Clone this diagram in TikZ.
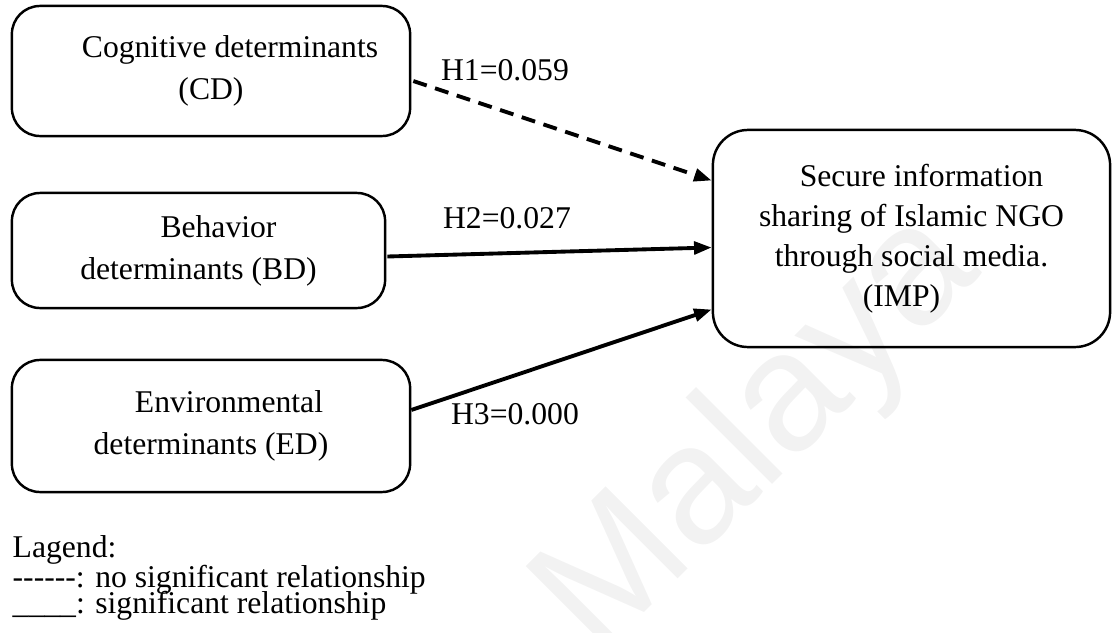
\documentclass[tikz,border=0pt]{standalone}
\usepackage{fontspec}
\setmainfont{Liberation Serif}
\newfontfamily\wmfont{Liberation Sans}
\usetikzlibrary{calc,arrows.meta}
\begin{document}
\begin{tikzpicture}[x=0.01cm,y=-0.01cm,
  box/.style={draw, line width=0.7pt, rounded corners=8pt, align=center, inner sep=0pt,
    font=\fontsize{9}{12}\selectfont},
  conn/.style={line width=1.1pt, -{Triangle[length=5pt,width=3.6pt]}},
  lbl/.style={font=\fontsize{9}{12}\selectfont, inner sep=0pt},
  legend/.style={font=\fontsize{9}{12}\selectfont, inner sep=0pt, anchor=west}]
\useasboundingbox (0,0) rectangle (1114,633);
% watermark
\node[text=black!5, rotate=45, font=\wmfont\fontsize{48}{48}\selectfont, inner sep=0pt] (wm) at (760,435) {Malaya};
% boxes
\node[box, minimum width=3.98cm, minimum height=1.30cm] (CD) at (211,71)
  {\hspace*{0.38cm}Cognitive determinants\\(CD)};
\node[box, minimum width=3.73cm, minimum height=1.15cm] (BD) at (198.5,250.5)
  {\hspace*{0.40cm}Behavior\\determinants (BD)};
\node[box, minimum width=3.98cm, minimum height=1.32cm] (ED) at (211,426)
  {\hspace*{0.36cm}Environmental\\determinants (ED)};
\node[box, rounded corners=10pt, minimum width=3.97cm, minimum height=2.17cm, font=\fontsize{9}{11.4}\selectfont] (IMP) at (911.5,238.5)
  {\hspace*{0.2cm}Secure information\\sharing of Islamic NGO\\through social media.\\\hspace*{-0.2cm}(IMP)};
% connectors
\draw[conn, dashed, dash pattern=on 4pt off 2.5pt] ($(CD.east)+(2,10)$) -- ($(IMP.west)+(0,-58)$);
\draw[conn] ($(BD.east)+(1,6)$) -- ($(IMP.west)+(0,9)$);
\draw[conn] ($(ED.east)+(0,-16)$) -- ($(IMP.west)+(0,71)$);
% labels
\node[lbl] (h1) at (505,70) {H1=0.059};
\node[lbl] (h2) at (507,218) {H2=0.027};
\node[lbl] (h3) at (515,414) {H3=0.000};
% legend
\node[legend] (lg1) at (12,550) {Lagend:};
\node[legend] (lg2) at (12,580) {-{}-{}-{}-{}-{}-: no significant relationship};
\node[legend] (lg3) at (12,606) {\_\_\_\_: significant relationship};
\end{tikzpicture}
\end{document}
